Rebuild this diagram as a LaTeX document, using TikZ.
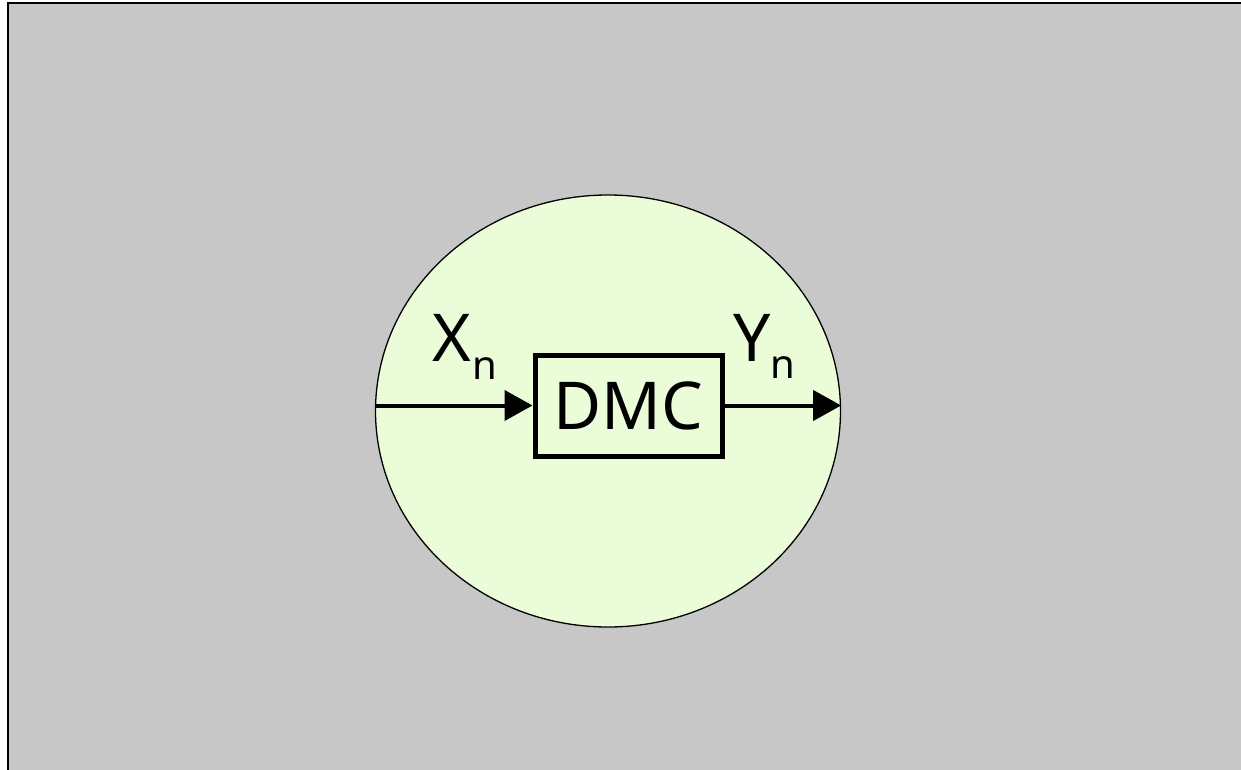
\documentclass[tikz,border=0pt]{standalone}
\usepackage{fontspec}
\setmainfont{Noto Sans}
\usetikzlibrary{arrows.meta,shapes.geometric}
\definecolor{bggray}{RGB}{198,199,198}
\definecolor{ellfill}{RGB}{235,252,216}
\tikzset{
  lbl/.style={inner sep=0pt, font=\fontsize{66}{70}\selectfont},
  sub/.style={inner sep=0pt, font=\fontsize{40}{44}\selectfont},
  sig/.style={line width=4pt, -{Triangle[length=28pt,width=30pt]}},
}
\begin{document}
\begin{tikzpicture}[x=1pt,y=-1pt]
\useasboundingbox (0,0) rectangle (1241,770);
\begin{scope}
\clip (0,0) rectangle (1241,770);
\draw[line width=2.5pt, fill=bggray] (8,3) rectangle (1260,790);
\end{scope}
\node[ellipse, draw=black, line width=1.3pt, fill=ellfill, minimum width=465pt, minimum height=432pt, inner sep=0pt] (ell) at (608,411) {};
\node[draw=black, line width=5pt, minimum width=187pt, minimum height=101pt, inner sep=0pt, lbl] (dmc) at (628.5,405.5) {DMC};
\draw[sig] (ell.west |- dmc.west) -- (dmc.west);
\draw[sig] (dmc.east) -- (ell.east |- dmc.east);
\node[lbl] (x) at (452,338) {X};
\node[sub] (xn) at (485,369) {n};
\node[lbl] (y) at (752,338) {Y};
\node[sub] (yn) at (783,368) {n};
\end{tikzpicture}
\end{document}
